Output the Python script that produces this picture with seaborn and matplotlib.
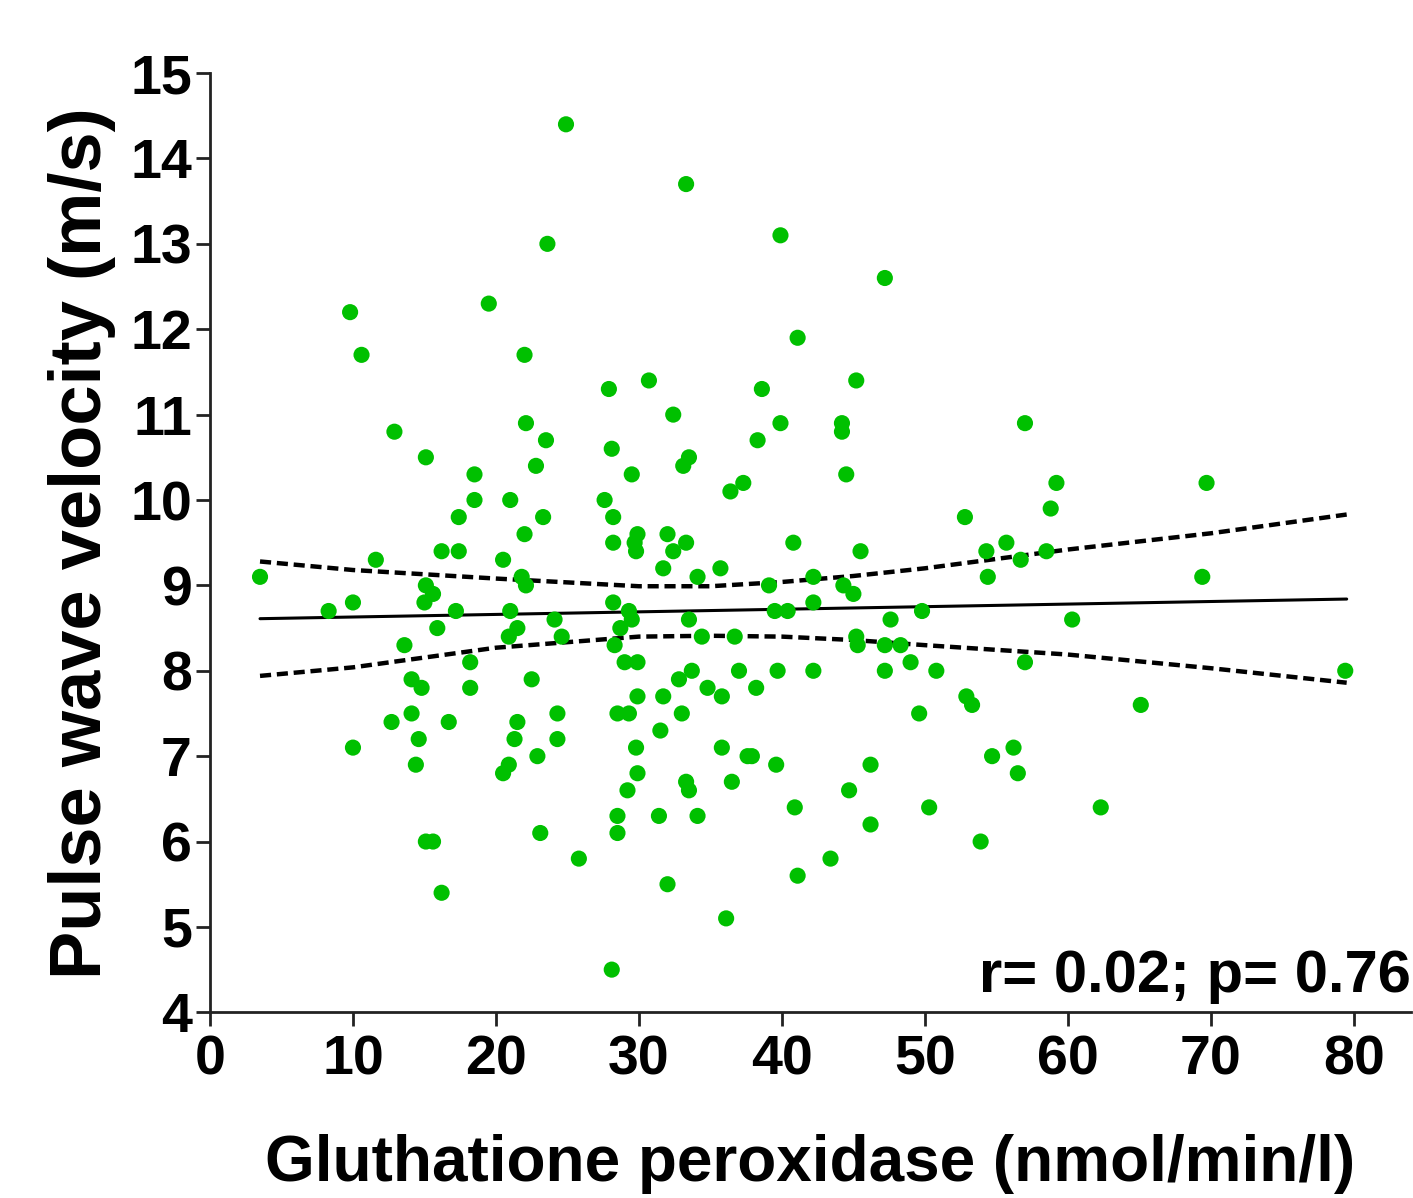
import numpy as np
import pandas as pd
import seaborn as sns
import matplotlib.pyplot as plt

# Gluthatione peroxidase (nmol/min/l)
gpx = [3.5, 8.3, 9.8, 10.0, 10.0, 10.6, 11.6, 12.7, 12.9, 13.6, 14.1, 14.1, 14.4, 14.6, 14.8,
       15.1, 15.6, 15.1, 15.0, 15.6, 15.1, 15.9, 16.2, 16.2, 16.7, 17.2, 17.4, 17.4, 18.2, 18.2,
       18.5, 18.5, 19.5, 20.5, 20.5, 20.9, 21.0, 21.0, 20.9, 21.3, 21.5, 21.5, 21.8, 22.1, 22.0,
       22.1, 22.0, 22.5, 22.8, 22.9, 23.1, 23.3, 23.5, 23.6, 24.1, 24.3, 24.3, 24.6, 24.9, 25.8,
       27.6, 27.9, 28.1, 28.2, 28.2, 28.1, 28.2, 28.3, 28.5, 28.5, 28.5, 28.7, 29.0, 29.3, 29.2,
       29.3, 29.5, 29.5, 29.8, 29.7, 29.8, 29.9, 29.9, 29.9, 29.9, 30.7, 31.4, 31.5, 31.7, 31.7,
       32.0, 32.0, 32.4, 32.4, 32.8, 33.0, 33.1, 33.3, 33.3, 33.3, 33.5, 33.5, 33.5, 33.7, 34.1,
       34.1, 34.4, 34.8, 35.7, 35.8, 35.8, 36.1, 36.4, 36.5, 36.7, 37.0, 37.3, 37.6, 37.9, 38.2,
       38.3, 38.6, 39.1, 39.5, 39.6, 39.7, 39.9, 39.9, 40.4, 40.8, 40.9, 41.1, 41.1, 42.2, 42.2,
       42.2, 43.4, 44.2, 44.2, 44.3, 44.5, 44.7, 45.0, 45.2, 45.2, 45.3, 45.5, 46.2, 46.2, 47.2,
       47.2, 47.2, 47.6, 48.3, 49.0, 49.6, 49.8, 50.3, 50.8, 52.8, 52.9, 53.3, 53.9, 54.3, 54.4,
       54.7, 55.7, 56.2, 56.5, 56.7, 57.0, 57.0, 58.5, 58.8, 59.2, 60.3, 62.3, 65.1, 69.4, 69.7,
       79.4]
# Pulse wave velocity (m/s)
pwv = [9.1, 8.7, 12.2, 8.8, 7.1, 11.7, 9.3, 7.4, 10.8, 8.3, 7.9, 7.5, 6.9, 7.2, 7.8,
       6.0, 6.0, 9.0, 8.8, 8.9, 10.5, 8.5, 9.4, 5.4, 7.4, 8.7, 9.4, 9.8, 8.1, 7.8,
       10.3, 10.0, 12.3, 9.3, 6.8, 6.9, 10.0, 8.7, 8.4, 7.2, 8.5, 7.4, 9.1, 9.0, 11.7,
       10.9, 9.6, 7.9, 10.4, 7.0, 6.1, 9.8, 10.7, 13.0, 8.6, 7.5, 7.2, 8.4, 14.4, 5.8,
       10.0, 11.3, 10.6, 9.8, 9.5, 4.5, 8.8, 8.3, 7.5, 6.3, 6.1, 8.5, 8.1, 8.7, 6.6,
       7.5, 10.3, 8.6, 7.1, 9.5, 9.4, 9.6, 8.1, 7.7, 6.8, 11.4, 6.3, 7.3, 9.2, 7.7,
       9.6, 5.5, 11.0, 9.4, 7.9, 7.5, 10.4, 9.5, 13.7, 6.7, 10.5, 8.6, 6.6, 8.0, 9.1,
       6.3, 8.4, 7.8, 9.2, 7.1, 7.7, 5.1, 10.1, 6.7, 8.4, 8.0, 10.2, 7.0, 7.0, 7.8,
       10.7, 11.3, 9.0, 8.7, 6.9, 8.0, 13.1, 10.9, 8.7, 9.5, 6.4, 5.6, 11.9, 8.8, 9.1,
       8.0, 5.8, 10.9, 10.8, 9.0, 10.3, 6.6, 8.9, 11.4, 8.4, 8.3, 9.4, 6.9, 6.2, 12.6,
       8.3, 8.0, 8.6, 8.3, 8.1, 7.5, 8.7, 6.4, 8.0, 9.8, 7.7, 7.6, 6.0, 9.4, 9.1,
       7.0, 9.5, 7.1, 6.8, 9.3, 10.9, 8.1, 9.4, 9.9, 10.2, 8.6, 6.4, 7.6, 9.1, 10.2,
       8.0]

# regression line and 95% confidence band
fit_x = [3.5, 79.5]
fit_y = [8.61, 8.84]
band_x = [3.5, 10, 20, 30, 35, 40, 45, 50, 60, 70, 79.5]
band_upper = [9.28, 9.18, 9.08, 8.99, 8.99, 9.04, 9.11, 9.20, 9.42, 9.61, 9.83]
band_lower = [7.94, 8.04, 8.27, 8.40, 8.41, 8.40, 8.36, 8.30, 8.19, 8.03, 7.86]

df = pd.DataFrame({'gpx': gpx, 'pwv': pwv})
fit = pd.DataFrame({'x': fit_x, 'y': fit_y})
band = pd.DataFrame({'x': band_x, 'upper': band_upper, 'lower': band_lower})

sns.set_style('ticks')
plt.rcParams['font.family'] = ['Liberation Sans', 'DejaVu Sans']
plt.rcParams['font.weight'] = 'bold'
for k in ['text.color', 'axes.labelcolor', 'xtick.color', 'ytick.color']:
    plt.rcParams[k] = 'black'

fig = plt.figure(figsize=(14.13, 11.98), dpi=100)
ax = fig.add_axes([0.1486, 0.155, 0.85, 0.784])

sns.scatterplot(data=df, x='gpx', y='pwv', color='#00C000', s=135,
                edgecolor='none', ax=ax, zorder=3)
sns.lineplot(data=fit, x='x', y='y', color='black', lw=2.2, ax=ax)
sns.lineplot(data=band, x='x', y='upper', color='black', lw=3.2,
             ls=(0, (2.5, 1.3)), ax=ax)
sns.lineplot(data=band, x='x', y='lower', color='black', lw=3.2,
             ls=(0, (2.5, 1.3)), ax=ax)

ax.set_xlim(0, 84)
ax.set_ylim(4, 15)
ax.set_xticks(range(0, 81, 10))
ax.set_yticks(range(4, 16))
sns.despine(ax=ax)
for sp in ['left', 'bottom']:
    ax.spines[sp].set_linewidth(2)
    ax.spines[sp].set_color('#222222')
ax.tick_params(axis='both', length=10, width=2, color='#222222', labelsize=40)
ax.tick_params(axis='x', pad=6)
ax.tick_params(axis='y', pad=3)
for lab in ax.get_xticklabels() + ax.get_yticklabels():
    lab.set_fontweight('bold')

ax.set_xlabel('Gluthatione peroxidase (nmol/min/l)', fontsize=46,
              fontweight='bold', labelpad=34)
ax.set_ylabel('Pulse wave velocity (m/s)', fontsize=52,
              fontweight='bold', labelpad=10)
ax.text(1.0, 0.022, 'r= 0.02; p= 0.76', transform=ax.transAxes,
        ha='right', va='baseline', fontsize=43, fontweight='bold')

fig.savefig('out.png', dpi=100)
